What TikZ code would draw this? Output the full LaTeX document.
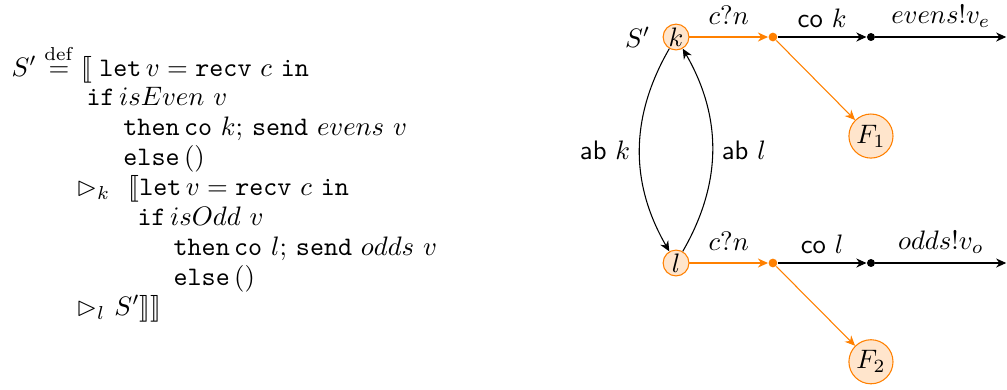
\documentclass[tikz,border=0pt]{standalone}
\usepackage{amsmath, amssymb, stmaryrd}
\usepackage{tikz}
\usetikzlibrary{arrows.meta}
\tikzset{>={Stealth[length=3.8pt,width=3.4pt]}}
\tikzset{proc/.style={circle, draw=orange, fill=orange!20, inner sep=0pt, minimum size=0.34cm}}
\tikzset{fin/.style={circle, draw=orange, fill=orange!20, inner sep=0pt, minimum size=0.58cm}}
\tikzset{odot/.style={circle, fill=orange, inner sep=0pt, minimum size=0.115cm}}
\tikzset{bdot/.style={circle, fill=black, inner sep=0pt, minimum size=0.105cm}}
\tikzset{och/.style={->, draw=orange}}
\newcommand{\kw}[1]{\texttt{#1}}

\begin{document}
\begin{tikzpicture}
\useasboundingbox (0,0) rectangle (13.25,-5.13);
% program text
\node[anchor=base west, inner sep=0pt] (code) at (0.145,-1.0) {%
\renewcommand{\arraystretch}{0.933}%
\begin{tabular}[t]{@{}l@{}}
$S' \stackrel{\mathrm{def}}{=} \llbracket\;\kw{let}\,v = \kw{recv}\ c\ \kw{in}$\\
\hspace*{28.1pt}\kw{if}\,$isEven\ v$\\
\hspace*{41.9pt}\kw{then}\,\kw{co}\ $k$;\ \kw{send}\ $evens\ v$\\
\hspace*{41.9pt}\kw{else}\,$()$\\
\hspace*{24.3pt}\makebox[19.5pt][l]{$\rhd_k$}$\llbracket$\kw{let}\,$v = \kw{recv}\ c\ \kw{in}$\\
\hspace*{47.2pt}\kw{if}\,$isOdd\ v$\\
\hspace*{60.7pt}\kw{then}\,\kw{co}\ $l$;\ \kw{send}\ $odds\ v$\\
\hspace*{60.7pt}\kw{else}\,$()$\\
\hspace*{24.3pt}$\rhd_l\ S'\rrbracket\rrbracket$
\end{tabular}};
% first branch
\node[proc, label={[label distance=1pt]left:$S'$}] (k) at (8.895,-0.487) {$k$};
\node[odot] (o1) at (10.17,-0.487) {};
\node[bdot] (b1) at (11.46,-0.487) {};
\coordinate (e1) at (13.24,-0.487);
\node[fin] (f1) at (11.46,-1.79) {$F_1$};
\draw[och] (k) -- node[above, yshift=1pt] {$c?n$} (o1);
\draw[->] (o1) -- node[above] {\textsf{co}~$k$} (b1);
\draw[->] (b1) -- node[above] {$evens!v_e$} (e1);
\draw[och] (o1) -- (f1);
% second branch
\node[proc] (l) at (8.895,-3.4605) {$l$};
\node[odot] (o2) at (10.17,-3.4605) {};
\node[bdot] (b2) at (11.46,-3.4605) {};
\coordinate (e2) at (13.24,-3.4605);
\node[fin] (f2) at (11.46,-4.76) {$F_2$};
\draw[och] (l) -- node[above, yshift=1pt] {$c?n$} (o2);
\draw[->] (o2) -- node[above] {\textsf{co}~$l$} (b2);
\draw[->] (b2) -- node[above] {$odds!v_o$} (e2);
\draw[och] (o2) -- (f2);
% aborts
\draw[->] (k) to[bend right=30] node[left] {\textsf{ab}~$k$} (l);
\draw[->] (l) to[bend right=30] node[right] {\textsf{ab}~$l$} (k);
\end{tikzpicture}
\end{document}
